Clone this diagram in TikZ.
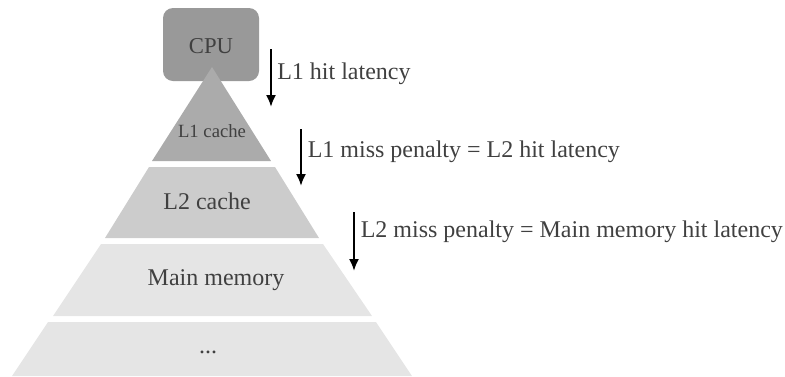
\documentclass[tikz,border=0pt]{standalone}
\usepackage{fontspec}
\setmainfont{Liberation Serif}
\usetikzlibrary{arrows.meta}
\definecolor{cpuC}{HTML}{999999}
\definecolor{lonec}{HTML}{ABABAB}
\definecolor{ltwoc}{HTML}{CCCCCC}
\definecolor{memc}{HTML}{E5E5E5}
\definecolor{txtc}{HTML}{404040}
\tikzset{
  lbl/.style={text=txtc, font=\fontsize{18pt}{20pt}\selectfont, anchor=base west, inner sep=0pt},
  intext/.style={text=txtc, inner sep=0pt},
  lat/.style={line width=1.5pt, -{Latex[length=9pt,width=7.5pt]}},
}
\begin{document}
\begin{tikzpicture}[x=0.75pt,y=-0.75pt]
\useasboundingbox (0,0) rectangle (785,376);
% CPU box
\node[fill=cpuC, rounded corners=7.5pt, minimum width=72pt, minimum height=54.75pt, inner sep=0pt] (cpu) at (211,44.5) {};
% pyramid layers
\fill[lonec] (212,67) -- (271,161) -- (152,161) -- cycle;
\fill[ltwoc] (149,167) -- (275,167) -- (319,238) -- (105,238) -- cycle;
\fill[memc] (101,244) -- (323,244) -- (372,316) -- (53,316) -- cycle;
\fill[memc] (48,322) -- (376,322) -- (412,376) -- (12,376) -- cycle;
% texts
\node[intext, font=\fontsize{17pt}{19pt}\selectfont] (cputxt) at (211,46) {CPU};
\node[intext, font=\fontsize{14pt}{16pt}\selectfont] (l1) at (212,131) {L1 cache};
\node[intext, font=\fontsize{18pt}{20pt}\selectfont] (l2) at (207,201) {L2 cache};
\node[intext, font=\fontsize{18pt}{20pt}\selectfont] (mm) at (216,280.5) {Main memory};
\node[intext, font=\fontsize{18pt}{20pt}\selectfont] (dots) at (208,352) {...};
% arrows
\coordinate (a1s) at (271,49);
\coordinate (a1e) at (271,107);
\coordinate (a2s) at (301,129);
\coordinate (a2e) at (301,186);
\coordinate (a3s) at (354,212);
\coordinate (a3e) at (354,271);
\draw[lat] (a1s) -- (a1e);
\draw[lat] (a2s) -- (a2e);
\draw[lat] (a3s) -- (a3e);
\node[lbl] (t1) at (277,79) {L1 hit latency};
\node[lbl] (t2) at (307.5,157.5) {L1 miss penalty = L2 hit latency};
\node[lbl] (t3) at (360.5,237) {L2 miss penalty = Main memory hit latency};
\end{tikzpicture}
\end{document}
